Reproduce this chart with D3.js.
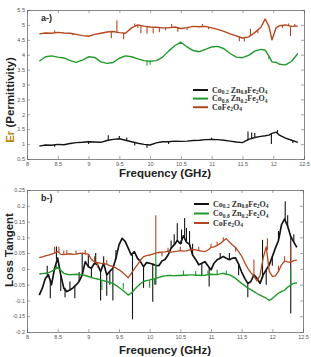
<!DOCTYPE html>
<html>
<head>
<meta charset="utf-8">
<script src="https://cdn.jsdelivr.net/npm/d3@7/dist/d3.min.js"></script>
<style>
  body { margin: 0; background: #fff; }
  text { font-family: "Liberation Sans", Arial, sans-serif; }
</style>
</head>
<body>
<div id="container"></div>
<script>
let w = 311;
let h = 357;

// ---- data ----
let names = ["Co_{0.2} Zn_{0.8}Fe_{2}O_{4}", "Co_{0.8} Zn_{0.2}Fe_{2}O_{4}", "CoFe_{2}O_{4}"];
let colors = ["#141414", "#1f9a2a", "#b6461f"];

let xTicks = [8, 8.5, 9, 9.5, 10, 10.5, 11, 11.5, 12, 12.5];
let yTicksTop = [0.5, 1, 1.5, 2, 2.5, 3, 3.5, 4, 4.5, 5, 5.5];
let yTicksBottom = [-0.2, -0.15, -0.1, -0.05, 0, 0.05, 0.1, 0.15, 0.2, 0.25];

// panel a: permittivity
let freqTop = [8.2, 8.3, 8.4, 8.5, 8.6, 8.7, 8.8, 8.9, 9.0, 9.1,
  9.2, 9.3, 9.4, 9.5, 9.6, 9.7, 9.8, 9.9, 10.0, 10.1,
  10.2, 10.3, 10.4, 10.5, 10.6, 10.7, 10.8, 10.9, 11.0, 11.1,
  11.2, 11.3, 11.4, 11.5, 11.6, 11.7, 11.8, 11.87, 11.93, 11.98,
  12.05, 12.1, 12.2, 12.3, 12.4];
let erBlack = [0.93, 0.97, 0.96, 0.99, 0.98, 1.02, 1.05, 1.06, 1.08, 1.07,
  1.06, 1.12, 1.16, 1.18, 1.13, 1.08, 1.03, 0.99, 0.97, 1.04,
  1.08, 1.08, 1.10, 1.09, 1.10, 1.12, 1.13, 1.15, 1.16, 1.15,
  1.13, 1.10, 1.07, 1.05, 1.16, 1.22, 1.26, 1.28, 1.30, 1.36,
  1.40, 1.30, 1.20, 1.13, 1.06];
let erGreen = [3.78, 3.93, 3.96, 3.92, 3.89, 3.80, 3.74, 3.82, 3.93, 3.91,
  3.76, 3.71, 3.74, 3.88, 3.96, 3.93, 3.86, 3.80, 3.78, 3.80,
  3.91, 4.12, 4.30, 4.42, 4.26, 4.14, 4.10, 4.18, 4.26, 4.28,
  4.20, 4.04, 3.92, 3.90, 3.98, 4.12, 4.18, 4.15, 3.95, 3.76,
  3.74, 3.68, 3.66, 3.78, 4.04];
let erBrown = [4.70, 4.73, 4.72, 4.75, 4.73, 4.72, 4.68, 4.64, 4.62, 4.68,
  4.72, 4.76, 4.78, 4.74, 4.72, 4.90, 5.00, 4.96, 4.93, 4.92,
  4.90, 4.90, 4.93, 4.88, 4.91, 4.95, 4.94, 4.95, 4.90, 4.85,
  4.78, 4.70, 4.63, 4.56, 4.60, 4.74, 4.92, 5.20, 4.95, 4.50,
  4.92, 4.97, 5.00, 4.95, 4.96];
// needles: [frequency, from, to]
let erBlackSpikes = [[8.45, 0.99, 0.91], [9.0, 1.08, 1.0], [9.32, 1.13, 1.3], [9.5, 1.18, 1.27], [9.62, 1.12, 1.22],
  [9.75, 1.05, 0.95], [9.95, 0.98, 0.88], [10.3, 1.08, 1.0], [11.0, 1.16, 1.21], [11.59, 1.12, 1.42],
  [11.65, 1.19, 1.39], [11.7, 1.22, 1.37], [11.97, 1.34, 1.0], [12.07, 1.38, 1.47], [12.32, 1.12, 1.04]];
let erGreenSpikes = [[9.95, 3.79, 3.63], [10.0, 3.78, 3.66], [11.93, 3.95, 3.85]];
let erBrownSpikes = [[8.45, 4.74, 4.82], [8.75, 4.71, 4.65], [9.37, 4.77, 4.55], [9.46, 4.77, 5.16], [9.57, 4.73, 4.52],
  [9.75, 4.95, 5.05], [9.8, 5.0, 4.9], [9.85, 4.98, 4.72], [9.95, 4.94, 4.7], [10.05, 4.92, 4.72], [10.15, 4.91, 4.75],
  [10.25, 4.9, 4.82], [10.35, 4.91, 5.03], [10.45, 4.9, 4.77], [10.6, 4.91, 4.83], [10.85, 4.94, 5.03],
  [10.95, 4.93, 4.85], [11.45, 4.6, 4.45], [11.53, 4.57, 4.44], [11.63, 4.64, 4.87], [11.75, 4.82, 4.72],
  [12.15, 4.98, 4.9], [12.25, 4.98, 5.05], [12.28, 4.95, 4.62], [12.35, 4.95, 5.03]];

// panel b: loss tangent
let freqBottom = [8.20, 8.25, 8.30, 8.35, 8.40, 8.45, 8.50, 8.55, 8.60, 8.65,
  8.70, 8.75, 8.80, 8.85, 8.90, 8.95, 9.00, 9.05, 9.10, 9.15,
  9.20, 9.25, 9.30, 9.35, 9.40, 9.45, 9.50, 9.55, 9.60, 9.65,
  9.70, 9.75, 9.80, 9.85, 9.90, 9.95, 10.00, 10.05, 10.10, 10.15,
  10.20, 10.25, 10.30, 10.35, 10.40, 10.45, 10.50, 10.55, 10.60, 10.65,
  10.70, 10.75, 10.80, 10.85, 10.90, 10.95, 11.00, 11.05, 11.10, 11.15,
  11.20, 11.25, 11.30, 11.35, 11.40, 11.45, 11.50, 11.55, 11.60, 11.65,
  11.70, 11.75, 11.80, 11.85, 11.90, 11.95, 12.00, 12.05, 12.10, 12.15,
  12.20, 12.25, 12.30, 12.35, 12.40];
let tanBlack = [-0.083, -0.061, -0.030, -0.019, -0.050, 0.002, 0.034, -0.019, -0.061, -0.072,
  -0.067, -0.060, -0.051, -0.040, -0.019, 0.023, 0.007, 0.002, 0.018, 0.013,
  -0.008, 0.018, -0.019, -0.008, 0.002, 0.034, 0.076, 0.097, 0.087, 0.066,
  0.044, 0.055, 0.034, 0.023, 0.007, 0.020, 0.018, 0.015, 0.011, 0.010,
  0.025, 0.030, 0.044, 0.066, 0.076, 0.090, 0.080, 0.105, 0.085, 0.078,
  0.044, 0.030, 0.013, 0.018, 0.023, 0.010, -0.003, 0.018, 0.029, 0.034,
  0.039, 0.034, 0.029, 0.034, 0.035, 0.015, -0.010, -0.030, -0.046, -0.040,
  -0.019, -0.030, -0.046, -0.019, -0.003, 0.013, 0.039, 0.066, 0.090, 0.140,
  0.158, 0.135, 0.103, 0.085, 0.068];
let tanGreen = [-0.016, -0.015, -0.014, -0.012, -0.008, -0.002, 0.004, -0.004, -0.014, -0.017,
  -0.019, -0.018, -0.017, -0.018, -0.019, -0.021, -0.024, -0.027, -0.030, -0.032,
  -0.035, -0.037, -0.040, -0.043, -0.046, -0.052, -0.059, -0.066, -0.074, -0.083,
  -0.077, -0.066, -0.056, -0.047, -0.040, -0.037, -0.035, -0.032, -0.030, -0.027,
  -0.024, -0.022, -0.021, -0.021, -0.022, -0.021, -0.021, -0.020, -0.020, -0.019,
  -0.019, -0.020, -0.020, -0.021, -0.020, -0.018, -0.017, -0.018, -0.018, -0.016,
  -0.014, -0.017, -0.019, -0.024, -0.030, -0.038, -0.046, -0.053, -0.061, -0.066,
  -0.072, -0.078, -0.083, -0.088, -0.093, -0.100, -0.094, -0.085, -0.077, -0.072,
  -0.067, -0.058, -0.051, -0.046, -0.044];
let tanBrown = [0.036, 0.038, 0.041, 0.044, 0.047, 0.050, 0.055, 0.046, 0.045, 0.047,
  0.048, 0.046, 0.047, 0.049, 0.050, 0.048, 0.047, 0.030, 0.022, 0.020,
  0.018, 0.017, 0.015, 0.010, 0.007, 0.003, -0.003, -0.010, -0.019, -0.028,
  -0.014, 0.000, 0.013, 0.028, 0.039, 0.042, 0.044, 0.047, 0.050, 0.052,
  0.053, 0.054, 0.056, 0.053, 0.055, 0.056, 0.058, 0.056, 0.057, 0.060,
  0.062, 0.060, 0.058, 0.056, 0.055, 0.060, 0.068, 0.070, 0.074, 0.080,
  0.088, 0.096, 0.085, 0.076, 0.068, 0.055, 0.040, 0.020, 0.002, -0.012,
  -0.024, -0.038, -0.020, 0.034, 0.070, -0.008, -0.024, -0.022, -0.008, 0.013,
  0.025, 0.022, 0.021, 0.026, 0.028];
let tanBlackSpikes = [[8.33, -0.02, 0.01], [8.38, -0.04, -0.093], [8.48, 0.03, 0.071], [8.55, -0.02, -0.07],
  [8.62, -0.06, -0.09], [8.7, -0.067, -0.04], [8.78, -0.055, -0.093], [8.85, -0.04, -0.01], [8.9, -0.02, 0.05],
  [9.0, 0.007, 0.045], [9.05, 0.0, -0.03], [9.12, 0.018, 0.05], [9.2, -0.005, -0.1], [9.25, 0.018, 0.04],
  [9.3, -0.02, -0.085], [9.35, -0.008, -0.05], [9.4, 0.0, -0.1], [9.45, 0.03, 0.06],
  [9.72, 0.044, -0.16], [9.9, 0.007, -0.06], [10.05, 0.015, -0.104], [10.1, 0.011, -0.05],
  [10.35, 0.066, 0.09], [10.4, 0.076, 0.11], [10.45, 0.087, 0.145], [10.52, 0.08, 0.125], [10.57, 0.1, 0.161],
  [10.6, 0.085, 0.13], [10.65, 0.076, 0.12], [10.7, 0.044, 0.08], [10.85, 0.018, -0.02],
  [10.97, 0.005, -0.056], [11.15, 0.034, 0.05], [11.3, 0.029, 0.05], [11.45, 0.015, -0.02],
  [11.6, -0.046, -0.09], [11.84, -0.03, 0.092], [11.9, -0.003, -0.05], [12.0, 0.039, 0.01],
  [12.1, 0.09, 0.12], [12.21, 0.156, 0.214], [12.25, 0.135, 0.17], [12.3, 0.1, -0.141], [12.35, 0.085, 0.11]];
let tanGreenSpikes = [[8.48, 0.0, 0.012], [9.22, -0.035, -0.067], [9.57, -0.063, -0.045], [10.0, -0.035, -0.06],
  [10.08, -0.03, -0.05], [10.1, -0.03, 0.05], [10.55, -0.02, -0.005], [10.75, -0.02, -0.007],
  [10.95, -0.018, -0.005], [11.1, -0.018, -0.003], [11.25, -0.017, -0.005], [12.3, -0.051, 0.002]];
let tanBrownSpikes = [[8.45, 0.05, 0.07], [8.52, 0.052, 0.07], [8.6, 0.045, 0.058], [8.65, 0.047, 0.06],
  [8.8, 0.047, 0.058], [8.95, 0.048, 0.06], [9.1, 0.022, 0.04], [9.15, 0.02, 0.005], [9.3, 0.015, 0.028],
  [10.1, 0.05, 0.17], [10.2, 0.053, 0.04], [10.3, 0.056, 0.067], [10.5, 0.058, 0.07], [10.8, 0.058, 0.07],
  [11.0, 0.068, 0.08], [11.1, 0.074, 0.086], [11.2, 0.088, 0.1], [11.4, 0.068, 0.055], [11.7, -0.022, 0.03],
  [11.92, 0.06, 0.097], [12.1, -0.008, 0.01], [12.2, 0.025, 0.04], [12.3, 0.021, 0.07]];

let viz = d3.select("#container")
  .append("svg")
    .attr("width", w)
    .attr("height", h)
    .style("background-color", "white")
;

function fmt(d){
  return String(+d.toFixed(2));
}

function drawPanel(p){
  let xScale = d3.scaleLinear().domain([8, 12.5]).range([p.left, p.right]);
  let yScale = d3.scaleLinear().domain(p.yDomain).range([p.bottom, p.top]);

  let g = viz.append("g").attr("class", "panel");

  // axes, MATLAB style box with inward ticks
  g.append("g").attr("transform", "translate(0," + p.bottom + ")")
    .call(d3.axisBottom(xScale).tickValues(xTicks).tickSize(-3).tickPadding(3).tickFormat(fmt));
  let topAxis = g.append("g").attr("transform", "translate(0," + p.top + ")")
    .call(d3.axisTop(xScale).tickValues(xTicks).tickSize(-3));
  g.append("g").attr("transform", "translate(" + p.left + ",0)")
    .call(d3.axisLeft(yScale).tickValues(p.yTicks).tickSize(-3).tickPadding(2).tickFormat(fmt));
  let rightAxis = g.append("g").attr("transform", "translate(" + p.right + ",0)")
    .call(d3.axisRight(yScale).tickValues(p.yTicks).tickSize(-3));
  // box sides carry ticks only
  topAxis.selectAll(".tick text").remove();
  rightAxis.selectAll(".tick text").remove();

  g.selectAll(".domain").attr("stroke", "#6a6a6a").attr("stroke-width", 0.8);
  g.selectAll(".tick line").attr("stroke", "#6a6a6a").attr("stroke-width", 0.6);
  g.selectAll(".tick text").attr("font-size", "5.5px").attr("fill", "#555")
    .style("font-family", "'Liberation Sans', Arial, sans-serif");

  let line = d3.line()
    .x(function(d){ return xScale(d[0]); })
    .y(function(d){ return yScale(d[1]); });

  p.series.forEach(function(s, i){
    let pts = p.freq.map(function(f, j){ return [f, s[j]]; });
    g.append("path")
      .attr("d", line(pts))
      .attr("fill", "none")
      .attr("stroke", colors[i])
      .attr("stroke-width", p.widths[i])
      .attr("stroke-linejoin", "round");
    g.selectAll(null).data(p.spikes[i]).enter()
      .append("path")
        .attr("d", function(d){ return line([[d[0], d[1]], [d[0], d[2]]]); })
        .attr("stroke", colors[i])
        .attr("stroke-width", 1.1)
        .attr("fill", "none");
  });

  // panel tag
  g.append("text")
    .attr("x", p.left + 14)
    .attr("y", p.top + 11)
    .attr("font-size", "9px")
    .attr("font-weight", "bold")
    .attr("fill", "#222")
    .text(p.tag);

  // legend
  let leg = g.append("g").attr("class", "legend");
  names.forEach(function(n, i){
    let yy = p.legendY + i * p.legendStep;
    leg.append("line")
      .attr("x1", p.legendX).attr("x2", p.legendX + 15)
      .attr("y1", yy).attr("y2", yy)
      .attr("stroke", colors[i]).attr("stroke-width", 2);
    let t = leg.append("text")
      .attr("x", p.legendX + 19)
      .attr("y", yy + 2.6)
      .attr("font-size", "8px")
      .attr("font-weight", "bold")
      .attr("fill", "#333")
      .style("font-family", "'Liberation Serif', 'DejaVu Serif', serif");
    // split "Co_{0.2}" style subscripts into tspans
    let parts = n.split(/(_\{[^}]*\})/).filter(function(s){ return s.length > 0; });
    let lowered = false;
    parts.forEach(function(s){
      if (s.startsWith("_{")) {
        t.append("tspan").attr("font-size", "5.5px").attr("dy", lowered ? 0 : 1.5).text(s.slice(2, -1));
        lowered = true;
      } else {
        t.append("tspan").attr("dy", lowered ? -1.5 : 0).text(s);
        lowered = false;
      }
    });
  });

  // axis titles
  g.append("text")
    .attr("x", 165)
    .attr("y", p.xLabelY)
    .attr("text-anchor", "middle")
    .attr("font-size", "11.5px")
    .attr("font-weight", "bold")
    .attr("fill", "#222")
    .text("Frequency (GHz)");

  let yl = g.append("text")
    .attr("transform", "translate(" + p.yLabelX + "," + p.yLabelCenter + ") rotate(-90)")
    .attr("text-anchor", "middle")
    .attr("font-size", "11.5px")
    .attr("font-weight", "bold")
    .attr("fill", "#222");
  p.yLabel.forEach(function(piece){
    yl.append("tspan").attr("fill", piece[1]).text(piece[0]);
  });
}

drawPanel({
  left: 27, right: 304, top: 10, bottom: 159,
  yDomain: [0.5, 5.5], yTicks: yTicksTop,
  freq: freqTop,
  series: [erBlack, erGreen, erBrown],
  spikes: [erBlackSpikes, erGreenSpikes, erBrownSpikes],
  widths: [1.4, 1.4, 1.4],
  tag: "a-)",
  legendX: 193, legendY: 90, legendStep: 8.6,
  xLabelY: 177,
  yLabelX: 14, yLabelCenter: 100,
  yLabel: [["Er", "#b8860b"], [" (Permittivity)", "#222"]]
});

drawPanel({
  left: 27, right: 303, top: 190, bottom: 332,
  yDomain: [-0.2, 0.25], yTicks: yTicksBottom,
  freq: freqBottom,
  series: [tanBlack, tanGreen, tanBrown],
  spikes: [tanBlackSpikes, tanGreenSpikes, tanBrownSpikes],
  widths: [1.7, 1.4, 1.3],
  tag: "b-)",
  legendX: 194, legendY: 204, legendStep: 9.5,
  xLabelY: 354,
  yLabelX: 13, yLabelCenter: 250,
  yLabel: [["Loss Tangent", "#222"]]
});
</script>
</body>
</html>
